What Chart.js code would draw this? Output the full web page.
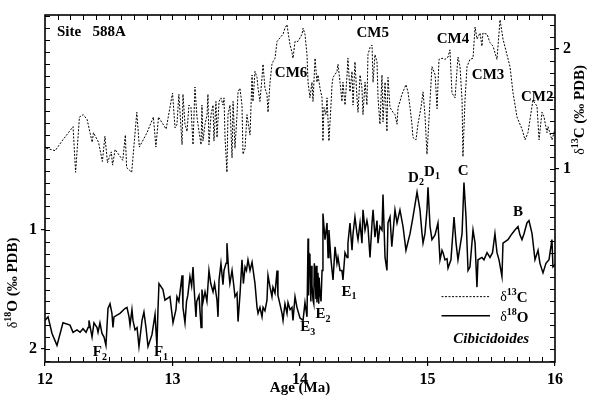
<!DOCTYPE html>
<html>
<head>
<meta charset="utf-8">
<script src="https://cdn.jsdelivr.net/npm/chart.js@4.4.1/dist/chart.umd.min.js"></script>
<style>
  html, body { margin: 0; padding: 0; background: #fff; }
  canvas { display: block; }
</style>
</head>
<body>
<canvas id="chart" width="589" height="401" style="width:589px;height:401px"></canvas>
<script>
// Site 588A, Cibicidoides isotope records (age in Ma)
const c13Age = [
  12.01, 12.08, 12.14, 12.22, 12.24, 12.27, 12.30, 12.33, 12.37, 12.38, 12.42, 12.45, 12.47, 12.49, 12.52, 12.53,
  12.55, 12.61, 12.63, 12.64, 12.68, 12.72, 12.74, 12.80, 12.85, 12.87, 12.89, 12.95, 13.00, 13.02, 13.035, 13.05,
  13.075, 13.082, 13.098, 13.114, 13.129, 13.145, 13.161, 13.176, 13.192, 13.208, 13.224, 13.231, 13.239, 13.255,
  13.271, 13.278, 13.286, 13.302, 13.318, 13.325, 13.341, 13.349, 13.365, 13.38, 13.396, 13.404, 13.412, 13.427,
  13.435, 13.451, 13.467, 13.475, 13.49, 13.506, 13.514, 13.529, 13.545, 13.553, 13.569, 13.584, 13.608, 13.624,
  13.631, 13.647, 13.663, 13.671, 13.686, 13.702, 13.71, 13.725, 13.741, 13.749, 13.765, 13.78, 13.788, 13.804,
  13.82, 13.843, 13.867, 13.882, 13.898, 13.906, 13.922, 13.937, 13.945, 13.961, 13.984, 14.016, 14.024, 14.039,
  14.055, 14.063, 14.078, 14.094, 14.102, 14.118, 14.133, 14.141, 14.157, 14.173, 14.18, 14.188, 14.204, 14.212,
  14.227, 14.243, 14.251, 14.259, 14.29, 14.298, 14.314, 14.329, 14.337, 14.353, 14.369, 14.376, 14.392, 14.408,
  14.416, 14.431, 14.447, 14.455, 14.471, 14.486, 14.494, 14.51, 14.525, 14.533, 14.549, 14.565, 14.573, 14.588,
  14.604, 14.612, 14.627, 14.643, 14.651, 14.667, 14.682, 14.69, 14.706, 14.729, 14.745, 14.761, 14.769, 14.784,
  14.80, 14.831, 14.847, 14.863, 14.878, 14.886, 14.91, 14.925, 14.949, 14.965, 14.98, 14.996, 15.035, 15.06,
  15.075, 15.09, 15.114, 15.137, 15.161, 15.176, 15.192, 15.216, 15.239, 15.255, 15.271, 15.278, 15.294, 15.31,
  15.333, 15.357, 15.373, 15.388, 15.412, 15.427, 15.435, 15.467, 15.49, 15.514, 15.545, 15.569, 15.592, 15.647,
  15.671, 15.702, 15.741, 15.765, 15.788, 15.827, 15.859, 15.875, 15.898, 15.914, 15.937, 15.945, 15.976, 16.0
]
const c13Val = [
  1.17, 1.15, 1.24, 1.35, 0.97, 1.43, 1.45, 1.41, 1.22, 1.30, 1.22, 1.06, 1.27, 1.05, 1.14, 1.03,
  1.16, 1.07, 1.28, 1.01, 0.97, 1.47, 1.18, 1.30, 1.43, 1.18, 1.43, 1.33, 1.63, 1.34, 1.37, 1.62,
  1.20, 1.62, 1.37, 1.31, 1.53, 1.51, 1.20, 1.68, 1.43, 1.31, 1.20, 1.53, 1.23, 1.37,
  1.45, 1.62, 1.20, 1.45, 1.53, 1.23, 1.56, 1.26, 1.56, 1.59, 1.53, 1.59, 1.26, 0.97,
  1.45, 1.53, 1.09, 1.56, 1.17, 1.45, 1.64, 1.67, 1.53, 1.12, 1.17, 1.45, 1.28, 1.78,
  1.56, 1.81, 1.76, 1.67, 1.56, 1.76, 1.87, 1.67, 1.62, 1.47, 1.72, 1.87, 1.89, 1.92,
  2.06, 2.09, 2.12, 2.17, 2.20, 2.14, 2.03, 1.97, 1.92, 2.06, 2.06, 2.12, 2.17, 2.12,
  1.95, 1.72, 1.59, 1.72, 1.56, 1.92, 1.72, 1.78, 1.67, 1.59, 1.23, 1.51, 1.45, 1.59,
  1.23, 1.53, 1.70, 1.76, 1.81, 1.87, 1.72, 1.56, 1.72, 1.53, 1.78, 1.92, 1.64, 1.81,
  1.53, 1.89, 1.59, 1.47, 1.78, 1.67, 1.45, 1.72, 1.53, 1.95, 2.01, 2.03, 1.72, 1.95,
  1.89, 1.59, 1.37, 1.78, 1.39, 1.72, 1.31, 1.76, 1.51, 1.47, 1.45, 1.37, 1.51, 1.56,
  1.62, 1.70, 1.64, 1.51, 1.37, 1.26, 1.24, 1.37, 1.51, 1.64, 1.45, 1.12, 1.85, 1.78,
  1.50, 1.91, 1.92, 1.91, 1.93, 1.99, 1.63, 1.59, 1.93, 1.85, 1.57, 1.10, 1.57, 1.85,
  1.91, 1.92, 2.18, 2.08, 2.13, 2.02, 2.13, 2.12, 2.05, 2.02, 1.91, 2.24, 2.08, 1.85,
  1.63, 1.43, 1.33, 1.24, 1.30, 1.57, 1.52, 1.24, 1.47, 1.43, 1.30, 1.35, 1.24, 1.33
]

const o18Age = [
  12.00, 12.024, 12.055, 12.094, 12.141, 12.196, 12.22, 12.251, 12.275, 12.298, 12.322, 12.338, 12.345, 12.369,
  12.384, 12.408, 12.416, 12.431, 12.447, 12.463, 12.478, 12.494, 12.51, 12.525, 12.533, 12.541, 12.588, 12.627,
  12.643, 12.659, 12.667, 12.682, 12.69, 12.706, 12.722, 12.737, 12.761, 12.776, 12.792, 12.808, 12.839, 12.863,
  12.878, 12.886, 12.894, 12.925, 12.941, 12.98, 13.004, 13.027, 13.035, 13.05, 13.075, 13.082, 13.098, 13.11,
  13.12, 13.137, 13.15, 13.161, 13.17, 13.184, 13.19, 13.208, 13.224, 13.231, 13.24, 13.255, 13.27, 13.286,
  13.30, 13.318, 13.33, 13.349, 13.357, 13.365, 13.38, 13.396, 13.404, 13.42, 13.427, 13.44, 13.45, 13.467,
  13.48, 13.49, 13.506, 13.514, 13.53, 13.545, 13.556, 13.569, 13.58, 13.592, 13.608, 13.624, 13.631, 13.647,
  13.663, 13.671, 13.686, 13.702, 13.71, 13.725, 13.741, 13.749, 13.765, 13.78, 13.788, 13.804, 13.82, 13.827,
  13.859, 13.867, 13.882, 13.898, 13.906, 13.922, 13.937, 13.945, 13.961, 13.976, 14.0, 14.024, 14.039, 14.055,
  14.063, 14.067, 14.071, 14.078, 14.085, 14.09, 14.094, 14.102, 14.108, 14.112, 14.118, 14.125, 14.128, 14.133,
  14.141, 14.147, 14.15, 14.157, 14.165, 14.173, 14.18, 14.196, 14.212, 14.22, 14.227,
  14.243, 14.259, 14.275, 14.29, 14.298, 14.314, 14.329, 14.337, 14.353, 14.369, 14.376, 14.392, 14.408, 14.416,
  14.431, 14.447, 14.455, 14.471, 14.486, 14.494, 14.51, 14.525, 14.533, 14.549, 14.565, 14.573, 14.588, 14.604,
  14.612, 14.627, 14.643, 14.651, 14.667, 14.682, 14.69, 14.706, 14.72, 14.729, 14.745, 14.761, 14.784, 14.808,
  14.831, 14.863, 14.886, 14.918, 14.941, 14.957, 14.965, 14.98, 14.996, 15.004, 15.02, 15.035, 15.059, 15.082,
  15.098, 15.114, 15.122, 15.137, 15.153, 15.161, 15.184, 15.208, 15.224, 15.239, 15.271, 15.286, 15.302, 15.318,
  15.333, 15.357, 15.373, 15.388, 15.396, 15.427, 15.443, 15.467, 15.49, 15.51, 15.529, 15.545, 15.561, 15.584,
  15.592, 15.631, 15.663, 15.686, 15.71, 15.725, 15.741, 15.757, 15.78, 15.796, 15.82, 15.843, 15.867, 15.882,
  15.906, 15.929, 15.953, 15.976, 15.984, 16.0
]
const o18Val = [
  1.76, 1.73, 1.87, 1.97, 1.78, 1.80, 1.86, 1.84, 1.86, 1.83, 1.86, 1.82, 1.76, 1.90,
  1.78, 1.82, 1.86, 1.78, 1.87, 1.90, 1.97, 1.66, 1.62, 1.70, 1.82, 1.73, 1.70, 1.66,
  1.65, 1.73, 1.80, 1.67, 1.76, 1.84, 1.82, 1.98, 1.76, 1.69, 1.82, 1.98, 1.88, 1.71,
  1.98, 1.67, 1.45, 1.50, 1.59, 1.56, 1.78, 1.67, 1.56, 1.60, 1.38, 1.65, 1.78, 1.60,
  1.55, 1.39, 1.47, 1.31, 1.50, 1.73, 1.60, 1.55, 1.82, 1.50, 1.60, 1.52, 1.60, 1.34,
  1.45, 1.52, 1.45, 1.59, 1.73, 1.42, 1.28, 1.46, 1.34, 1.28, 1.11, 1.34, 1.45, 1.34,
  1.46, 1.56, 1.53, 1.77, 1.53, 1.25, 1.45, 1.31, 1.34, 1.25, 1.34, 1.27, 1.27, 1.45,
  1.65, 1.70, 1.65, 1.73, 1.65, 1.68, 1.59, 1.38, 1.48, 1.56, 1.48, 1.53, 1.34, 1.55,
  1.70, 1.76, 1.62, 1.70, 1.61, 1.67, 1.65, 1.76, 1.56, 1.65, 1.74, 1.76, 1.61, 1.73,
  1.07, 1.55, 1.20, 1.23, 1.60, 1.30, 1.46, 1.59, 1.62, 1.28, 1.34, 1.58, 1.30, 1.61,
  1.36, 1.62, 1.40, 1.53, 1.60, 1.34, 0.86, 1.08, 0.94, 1.23, 1.00,
  1.25, 1.42, 1.14, 1.28, 1.23, 1.34, 1.34, 1.42, 1.19, 1.23, 1.11, 0.94, 1.17, 1.03,
  0.89, 1.03, 1.08, 0.94, 1.11, 0.83, 1.00, 0.92, 0.97, 1.23, 0.94, 0.83, 1.06, 0.92,
  1.11, 0.97, 1.00, 0.70, 1.23, 1.34, 0.94, 0.89, 1.14, 1.03, 0.83, 0.94, 0.83, 0.97,
  1.17, 1.03, 0.89, 0.68, 0.83, 1.03, 1.11, 1.03, 0.83, 0.64, 0.97, 1.08, 1.04, 0.94,
  1.25, 1.17, 1.19, 1.25, 1.24, 1.32, 1.25, 0.89, 1.11, 1.25, 1.03, 0.60, 0.89, 1.34,
  1.31, 1.00, 1.11, 1.48, 1.25, 1.23, 1.25, 1.19, 1.23, 1.19, 1.03, 1.19, 1.25, 1.39,
  1.11, 1.08, 1.03, 1.00, 0.97, 1.04, 1.08, 1.03, 0.94, 0.92, 1.03, 1.25, 1.17, 1.28,
  1.36, 1.28, 1.25, 1.08, 1.31, 1.29
]

const ageTicks = [12, 13, 14, 15, 16]
const o18Ticks = [1, 2]
const c13Ticks = [1, 2]

const SERIF = '"Liberation Serif", "Times New Roman", serif'
const B15 = 'bold 15px ' + SERIF
const SUB = 'bold 10px ' + SERIF
const DELTA = '14px ' + SERIF

// draws a run of text pieces (sub/superscripts) side by side
function richText(ctx, x, y, parts, align) {
  let w = 0
  parts.forEach(p => { ctx.font = p.font; w += ctx.measureText(p.t).width })
  let cx = align === 'center' ? x - w / 2 : align === 'right' ? x - w : x
  ctx.textAlign = 'left'
  ctx.textBaseline = 'middle'
  parts.forEach(p => {
    ctx.font = p.font
    ctx.fillText(p.t, cx, y + (p.dy || 0))
    cx += ctx.measureText(p.t).width
  })
}

const lbl = (t, s) => s ? [{ t, font: B15 }, { t: s, font: SUB, dy: 5 }] : [{ t, font: B15 }]
const iso = (n, el, tail) => [
  { t: 'δ', font: DELTA },
  { t: n, font: SUB, dy: -5 },
  { t: el + (tail || ''), font: B15 }
]

const decorPlugin = {
  id: 'decor',
  afterDatasetsDraw(chart) {
    const { ctx, chartArea: a, scales } = chart
    const xs = scales.x, yo = scales.yO, yc = scales.yC
    ctx.save()
    ctx.fillStyle = '#000'
    ctx.strokeStyle = '#000'

    // inward minor ticks
    ctx.lineWidth = 1
    ctx.beginPath()
    for (let v = 12.1; v < 15.99; v += 0.1) {
      const px = Math.round(xs.getPixelForValue(v)) + 0.5
      ctx.moveTo(px, a.bottom); ctx.lineTo(px, a.bottom - 5)
      ctx.moveTo(px, a.top); ctx.lineTo(px, a.top + 5)
    }
    for (let v = -0.8; v < 2.11; v += 0.1) {
      const py = Math.round(yo.getPixelForValue(v)) + 0.5
      ctx.moveTo(a.left, py); ctx.lineTo(a.left + 5, py)
    }
    for (let v = -0.6; v < 2.28; v += 0.1) {
      const py = Math.round(yc.getPixelForValue(v)) + 0.5
      ctx.moveTo(a.right, py); ctx.lineTo(a.right - 5, py)
    }
    ctx.stroke()

    // frame
    ctx.lineWidth = 1.6
    ctx.strokeRect(a.left, a.top, a.right - a.left, a.bottom - a.top)

    // annotations on the carbon curve
    const cLabels = [['CM6', 13.93, 1.80], ['CM5', 14.57, 2.13], ['CM4', 15.2, 2.075], ['CM3', 15.475, 1.78], ['CM2', 15.86, 1.60]]
    cLabels.forEach(([t, x, y]) => richText(ctx, xs.getPixelForValue(x), yc.getPixelForValue(y), lbl(t), 'center'))
    richText(ctx, xs.getPixelForValue(12.094), yc.getPixelForValue(2.14), [{ t: 'Site   588A', font: B15 }], 'left')

    // annotations on the oxygen curve
    const oLabels = [['D', '2', 14.91, 0.56], ['D', '1', 15.035, 0.51], ['C', '', 15.28, 0.50], ['B', '', 15.71, 0.85],
      ['E', '1', 14.385, 1.52], ['E', '2', 14.18, 1.71], ['E', '3', 14.06, 1.82], ['F', '2', 12.43, 2.03], ['F', '1', 12.91, 2.03]]
    oLabels.forEach(([t, s, x, y]) => richText(ctx, xs.getPixelForValue(x), yo.getPixelForValue(y), lbl(t, s), 'center'))

    // legend
    const lx0 = xs.getPixelForValue(15.11), lx1 = xs.getPixelForValue(15.49)
    const ly1 = yo.getPixelForValue(1.56), ly2 = yo.getPixelForValue(1.72)
    ctx.lineWidth = 1
    ctx.setLineDash([2, 1.5])
    ctx.beginPath(); ctx.moveTo(lx0, ly1); ctx.lineTo(lx1, ly1); ctx.stroke()
    ctx.setLineDash([])
    ctx.lineWidth = 1.5
    ctx.beginPath(); ctx.moveTo(lx0, ly2); ctx.lineTo(lx1, ly2); ctx.stroke()
    const tx = xs.getPixelForValue(15.57)
    richText(ctx, tx, ly1 + 1, iso('13', 'C'), 'left')
    richText(ctx, tx, ly2 + 2, iso('18', 'O'), 'left')
    richText(ctx, xs.getPixelForValue(15.5), yo.getPixelForValue(1.92), [{ t: 'Cibicidoides', font: 'italic bold 15px ' + SERIF }], 'center')

    // axis titles
    richText(ctx, xs.getPixelForValue(14), a.bottom + 26, [{ t: 'Age (Ma)', font: B15 }], 'center')
    ctx.save()
    ctx.translate(a.left - 32, yo.getPixelForValue(1.445))
    ctx.rotate(-Math.PI / 2)
    richText(ctx, 0, 0, iso('18', 'O', ' (‰ PDB)'), 'center')
    ctx.restore()
    ctx.save()
    ctx.translate(a.right + 25, yc.getPixelForValue(1.49))
    ctx.rotate(-Math.PI / 2)
    richText(ctx, 0, 0, iso('13', 'C', ' (‰ PDB)'), 'center')
    ctx.restore()

    ctx.restore()
  }
}

const tickFont = { family: SERIF, weight: 'bold', size: 16 }
const majorGrid = { display: true, drawOnChartArea: false, drawTicks: true, tickLength: 4, color: '#000', lineWidth: 1.2 }

new Chart(document.getElementById('chart'), {
  type: 'line',
  data: {
    datasets: [
      {
        label: 'δ13C',
        data: c13Age.map((a, i) => ({ x: a, y: c13Val[i] })),
        yAxisID: 'yC',
        borderColor: '#000',
        borderWidth: 1,
        borderDash: [2, 1.5],
        pointRadius: 0,
        tension: 0,
        fill: false
      },
      {
        label: 'δ18O',
        data: o18Age.map((a, i) => ({ x: a, y: o18Val[i] })),
        yAxisID: 'yO',
        borderColor: '#000',
        borderWidth: 1.5,
        pointRadius: 0,
        tension: 0,
        fill: false
      }
    ]
  },
  options: {
    responsive: false,
    animation: false,
    devicePixelRatio: 1,
    layout: { padding: { top: 15, left: 0, right: 0, bottom: 0 } },
    plugins: { legend: { display: false }, tooltip: { enabled: false } },
    scales: {
      x: {
        type: 'linear',
        min: 12,
        max: 16,
        afterBuildTicks: s => { s.ticks = ageTicks.map(v => ({ value: v })) },
        afterFit: s => { s.height = 39 },
        ticks: { font: tickFont, color: '#000', padding: 4, maxRotation: 0, callback: v => String(v) },
        grid: majorGrid,
        border: { display: false }
      },
      yO: {
        type: 'linear',
        position: 'left',
        reverse: true,
        min: -0.81,
        max: 2.11,
        afterBuildTicks: s => { s.ticks = o18Ticks.map(v => ({ value: v })) },
        afterFit: s => { s.width = 45 },
        ticks: { font: tickFont, color: '#000', padding: 4, callback: v => String(v) },
        grid: majorGrid,
        border: { display: false }
      },
      yC: {
        type: 'linear',
        position: 'right',
        min: -0.61,
        max: 2.28,
        afterBuildTicks: s => { s.ticks = c13Ticks.map(v => ({ value: v })) },
        afterFit: s => { s.width = 34 },
        ticks: { font: tickFont, color: '#000', padding: 4, callback: v => String(v) },
        grid: majorGrid,
        border: { display: false }
      }
    }
  },
  plugins: [decorPlugin]
})
</script>
</body>
</html>
